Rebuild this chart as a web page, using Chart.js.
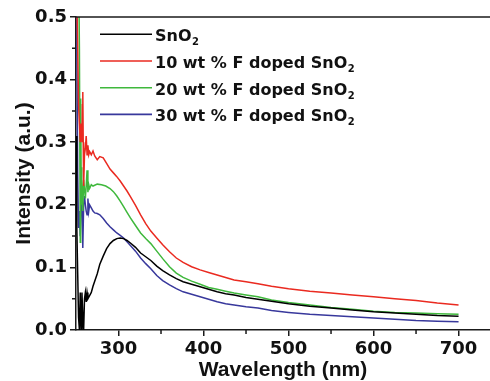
<!DOCTYPE html>
<html><head><meta charset="utf-8">
<script src="https://cdn.jsdelivr.net/npm/chart.js@4"></script>
<style>html,body{margin:0;padding:0;background:#fff;overflow:hidden}</style>
</head><body>
<canvas id="c" width="490" height="381"></canvas>
<script>
const seriesNames = ['SnO₂', '10 wt % F doped SnO₂', '20 wt % F doped SnO₂', '30 wt % F doped SnO₂'];
const seriesColors = ['#000000', '#ea2a20', '#3fb83c', '#38389c'];

const wlSnO2 = [250,251,252,253,254,255,256,257,258,259,260,261,262,263,264,266,268,270,272,275,278,282,286,290,294,298,302,306,310,314,320,326,332,338,345,352,360,368,376,386,396,406,416,426,436,450,464,480,500,525,550,575,600,625,650,675,700];
const valSnO2 = [0.31,0.16,0.09,0.02,0.0,0.06,0.0,0.06,0.02,0.0,0.05,0.06,0.045,0.06,0.05,0.055,0.06,0.07,0.078,0.09,0.105,0.118,0.13,0.138,0.143,0.146,0.147,0.146,0.143,0.139,0.132,0.123,0.117,0.111,0.102,0.095,0.088,0.082,0.077,0.073,0.069,0.065,0.061,0.058,0.056,0.052,0.049,0.046,0.042,0.038,0.035,0.032,0.029,0.027,0.025,0.023,0.022];

const wl10 = [250,251,252,253,254,255,256,257,257.5,258,258.5,259,260,261,262,263,264,265,266,268,270,272,275,278,282,286,290,294,298,302,306,310,314,320,326,332,338,345,352,360,368,376,386,396,406,416,426,436,450,464,480,500,525,550,575,600,625,650,675,700];
const val10 = [0.6,0.6,0.45,0.36,0.33,0.30,0.33,0.30,0.36,0.38,0.30,0.23,0.28,0.29,0.31,0.28,0.295,0.28,0.285,0.28,0.286,0.278,0.272,0.277,0.275,0.266,0.257,0.251,0.245,0.238,0.23,0.222,0.213,0.199,0.184,0.17,0.158,0.147,0.136,0.125,0.115,0.108,0.101,0.096,0.092,0.088,0.084,0.080,0.077,0.074,0.070,0.066,0.062,0.059,0.056,0.053,0.050,0.047,0.043,0.040];

const wl20 = [250,252,253,254,255,255.5,256,256.5,257,258,259,260,261,262,263,264,265,266,268,270,275,280,285,290,294,298,302,306,310,314,320,326,332,338,345,352,360,368,376,386,396,406,416,426,436,450,464,480,500,525,550,575,600,625,650,675,700];
const val20 = [0.6,0.6,0.6,0.45,0.14,0.37,0.26,0.2,0.24,0.19,0.24,0.225,0.21,0.23,0.255,0.22,0.232,0.226,0.232,0.23,0.233,0.232,0.23,0.226,0.221,0.214,0.206,0.197,0.188,0.179,0.167,0.155,0.146,0.138,0.126,0.114,0.101,0.091,0.084,0.078,0.073,0.068,0.065,0.062,0.059,0.056,0.053,0.048,0.044,0.040,0.036,0.033,0.030,0.028,0.027,0.026,0.025];

const wl30 = [250,251,252,253,254,255,256,257,258,259,260,261,262,263,264,265,266,268,270,272,275,278,282,286,290,294,298,302,306,310,314,320,326,332,338,345,352,360,368,376,386,396,406,416,426,436,450,464,480,500,525,550,575,600,625,650,675,700];
const val30 = [0.6,0.45,0.25,0.163,0.19,0.15,0.216,0.2,0.131,0.2,0.214,0.2,0.19,0.184,0.21,0.19,0.2,0.195,0.19,0.187,0.186,0.184,0.178,0.171,0.165,0.16,0.155,0.151,0.147,0.141,0.135,0.126,0.115,0.106,0.098,0.087,0.079,0.072,0.066,0.061,0.057,0.053,0.049,0.045,0.042,0.040,0.037,0.035,0.031,0.028,0.025,0.023,0.021,0.019,0.017,0.015,0.014,0.013];

const xTicks = [300, 400, 500, 600, 700];
const xMinorTicks = [350, 450, 550, 650];
const yTicks = [0.0, 0.1, 0.2, 0.3, 0.4, 0.5];
const yMinorTicks = [0.05, 0.15, 0.25, 0.35, 0.45];

const wlSets = [wlSnO2, wl10, wl20, wl30];
const valSets = [valSnO2, val10, val20, val30];

const FONT = '"Liberation Sans", Arial, sans-serif';
const WFONT = '"DejaVu Sans", sans-serif';

const extras = {
  id: 'extras',
  afterDraw(chart) {
    const ctx = chart.ctx, a = chart.chartArea;
    const xs = chart.scales.x, ys = chart.scales.y;
    ctx.save();
    ctx.strokeStyle = '#1a1a1a';
    ctx.lineWidth = 1.5;
    ctx.beginPath(); ctx.moveTo(a.left, a.top); ctx.lineTo(a.right + 2, a.top); ctx.stroke();
    ctx.beginPath();
    xMinorTicks.forEach(v => { const p = xs.getPixelForValue(v); ctx.moveTo(p, a.bottom); ctx.lineTo(p, a.bottom + 4); });
    yMinorTicks.forEach(v => { const p = ys.getPixelForValue(v); ctx.moveTo(a.left, p); ctx.lineTo(a.left - 4, p); });
    ctx.stroke();
    const lx1 = 100, lx2 = 152, tx = 155, y0 = 34.3, dy = 26.7;
    chart.data.datasets.forEach((ds, i) => {
      const y = y0 + i * dy;
      ctx.strokeStyle = ds.borderColor; ctx.lineWidth = 1.6;
      ctx.beginPath(); ctx.moveTo(lx1, y); ctx.lineTo(lx2, y); ctx.stroke();
      ctx.fillStyle = '#111';
      ctx.textBaseline = 'alphabetic';
      const parts = ds.label.split('₂');
      ctx.font = 'bold 16px ' + WFONT;
      ctx.fillText(parts[0], tx, y + 7);
      const w = ctx.measureText(parts[0]).width;
      ctx.font = 'bold 10px ' + WFONT;
      ctx.fillText('2', tx + w + 0.5, y + 11);
    });
    ctx.restore();
  }
};

new Chart(document.getElementById('c'), {
  type: 'line',
  data: {
    datasets: seriesNames.map((name, i) => ({
      label: name,
      data: wlSets[i].map((w, j) => ({ x: w, y: valSets[i][j] })),
      borderColor: seriesColors[i],
      borderWidth: 1.5,
      pointRadius: 0,
      tension: 0,
      fill: false
    }))
  },
  options: {
    responsive: false,
    animation: false,
    layout: { padding: { top: 17, left: 0, right: 0, bottom: 0 } },
    plugins: { legend: { display: false }, tooltip: { enabled: false } },
    scales: {
      x: {
        type: 'linear', min: 250, max: 737,
        afterBuildTicks: s => { s.ticks = xTicks.map(v => ({ value: v })); },
        afterFit: s => { s.height = 51; },
        grid: { display: true, drawOnChartArea: false, drawTicks: true, tickLength: 6, color: '#1a1a1a', lineWidth: 1.5 },
        border: { display: true, color: '#1a1a1a', width: 1.5 },
        ticks: { color: '#111', padding: 3, font: { family: WFONT, size: 18, weight: 'bold' }, maxRotation: 0, callback: v => String(v) },
        title: { display: true, text: 'Wavelength (nm)', color: '#111', padding: { top: 0, bottom: 0 }, font: { family: FONT, size: 21, weight: 'bold', lineHeight: 1 } }
      },
      y: {
        type: 'linear', min: 0, max: 0.5,
        afterBuildTicks: s => { s.ticks = yTicks.map(v => ({ value: v })); },
        afterFit: s => { s.width = 76; },
        grid: { display: true, drawOnChartArea: false, drawTicks: true, tickLength: 6, color: '#1a1a1a', lineWidth: 1.5 },
        border: { display: true, color: '#1a1a1a', width: 1.5 },
        ticks: { color: '#111', padding: 3, font: { family: WFONT, size: 18, weight: 'bold' }, callback: v => v.toFixed(1) },
        title: { display: true, text: 'Intensity (a.u.)', color: '#111', padding: { top: 14, bottom: 0 }, font: { family: FONT, size: 21, weight: 'bold', lineHeight: 1 } }
      }
    }
  },
  plugins: [extras]
});
</script>
</body></html>
